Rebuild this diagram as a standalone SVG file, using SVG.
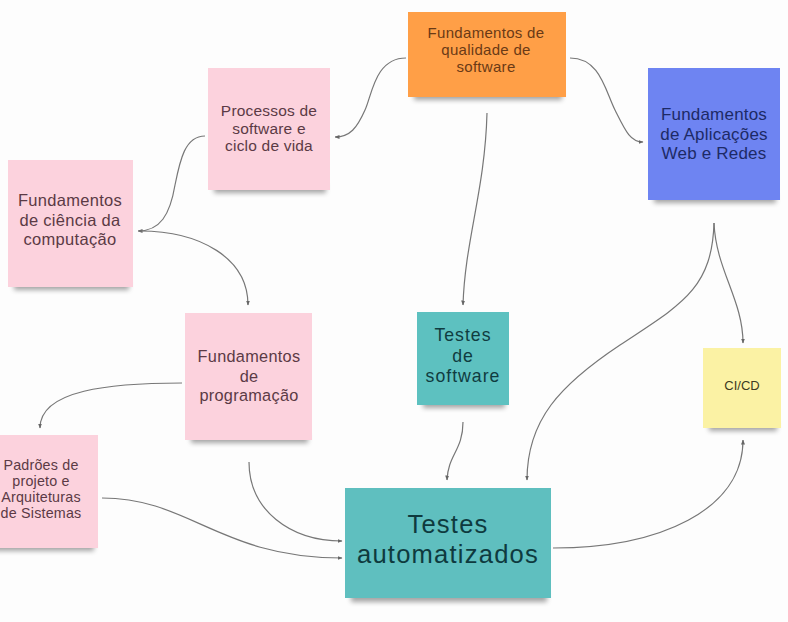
<svg xmlns="http://www.w3.org/2000/svg" width="788" height="622" viewBox="0 0 788 622">
<defs>
<filter id="blur" x="-20%" y="-100%" width="140%" height="300%"><feGaussianBlur stdDeviation="2.5"/></filter>
<marker id="arr" viewBox="0 0 10 10" refX="9" refY="5" markerWidth="5" markerHeight="5" orient="auto-start-reverse" markerUnits="userSpaceOnUse"><path d="M0,1 L10,5 L0,9 z" fill="#666"/></marker>
</defs>
<style>
text{font-family:"Liberation Sans","Open Sans",Arial,sans-serif;text-anchor:middle}
.sh{fill:#000;opacity:0.35;filter:url(#blur)}
.pink{fill:#FCD2DD}
.pt{fill:#5b3a45}
.conn path{fill:none;stroke:#777;stroke-width:1.2;marker-end:url(#arr)}
</style>
<rect width="788" height="622" fill="#fdfdfd"/>
<g class="conn" id="connectors">
<path d="M406,58 C375,58 372,95 365,110 C357,128 350,137 335,137"/>
<path d="M205,136 C185,136 180,160 175,185 C170,215 160,231 138,231"/>
<path d="M140,231 C200,231 248,258 248,305"/>
<path d="M182,383 C110,383 40,390 40,428"/>
<path d="M249,462 C249,510 290,541 342,541"/>
<path d="M102,498 C190,498 220,558 342,558"/>
<path d="M487,113 C485,190 465,240 463,305"/>
<path d="M463,422 C463,450 448,455 447,480"/>
<path d="M570,58 C600,58 605,90 615,110 C625,130 630,142 643,142"/>
<path d="M714,223 C712,290 680,305 620,345 C560,385 527,420 527,480"/>
<path d="M714,223 C716,270 743,300 743,343"/>
<path d="M553,548 C660,548 743,510 743,440"/>
</g>
<g id="qualidade">
<rect class="sh" x="414" y="91" width="148" height="9"/>
<rect x="408" y="12" width="158" height="85" fill="#FF9F47"/>
<text font-size="15" letter-spacing="0.3" fill="#6a3a16"><tspan x="486" y="38">Fundamentos de</tspan><tspan x="486" y="55">qualidade de</tspan><tspan x="486" y="72">software</tspan></text>
</g>
<g id="web">
<rect class="sh" x="654" y="194" width="122" height="9"/>
<rect x="648" y="68" width="132" height="132" fill="#6E84F2"/>
<text font-size="17" letter-spacing="0.2" fill="#1d2a66"><tspan x="714" y="120">Fundamentos</tspan><tspan x="714" y="139.5">de Aplicações</tspan><tspan x="714" y="159">Web e Redes</tspan></text>
</g>
<g id="processos">
<rect class="sh" x="214" y="184" width="112" height="9"/>
<rect class="pink" x="208" y="68" width="122" height="122"/>
<text font-size="15.5" letter-spacing="0.2" class="pt"><tspan x="269" y="116">Processos de</tspan><tspan x="269" y="133.5">software e</tspan><tspan x="269" y="151">ciclo de vida</tspan></text>
</g>
<g id="ciencia">
<rect class="sh" x="14" y="281" width="115" height="9"/>
<rect class="pink" x="8" y="160" width="125" height="127"/>
<text font-size="16.5" letter-spacing="0.3" class="pt"><tspan x="70" y="206">Fundamentos</tspan><tspan x="70" y="225.5">de ciência da</tspan><tspan x="70" y="245">computação</tspan></text>
</g>
<g id="programacao">
<rect class="sh" x="191" y="434" width="117" height="9"/>
<rect class="pink" x="185" y="313" width="127" height="127"/>
<text font-size="16.3" letter-spacing="0.3" class="pt"><tspan x="249" y="362">Fundamentos</tspan><tspan x="249" y="381.5">de</tspan><tspan x="249" y="401">programação</tspan></text>
</g>
<g id="padroes">
<rect class="sh" x="-10" y="542" width="104" height="9"/>
<rect class="pink" x="-16" y="435" width="114" height="113"/>
<text font-size="14.3" letter-spacing="0.2" class="pt"><tspan x="41" y="470">Padrões de</tspan><tspan x="41" y="486">projeto e</tspan><tspan x="41" y="502">Arquiteturas</tspan><tspan x="41" y="518">de Sistemas</tspan></text>
</g>
<g id="testes-software">
<rect class="sh" x="423" y="399" width="82" height="9"/>
<rect x="417" y="312" width="92" height="93" fill="#5DC1C0"/>
<text font-size="17.7" letter-spacing="1" fill="#103c40"><tspan x="463" y="341">Testes</tspan><tspan x="463" y="361.5">de</tspan><tspan x="463" y="382">software</tspan></text>
</g>
<g id="cicd">
<rect class="sh" x="709" y="422" width="68" height="9"/>
<rect x="703" y="348" width="78" height="80" fill="#FBF2A4"/>
<text font-size="13" fill="#3d3a22" x="742" y="390">CI/CD</text>
</g>
<g id="automatizados">
<rect class="sh" x="351" y="592" width="196" height="10"/>
<rect x="345" y="488" width="206" height="110" fill="#5FBFBF"/>
<text font-size="25.6" letter-spacing="1.2" fill="#0e3a3e"><tspan x="448" y="533">Testes</tspan><tspan x="448" y="563">automatizados</tspan></text>
</g>
</svg>
